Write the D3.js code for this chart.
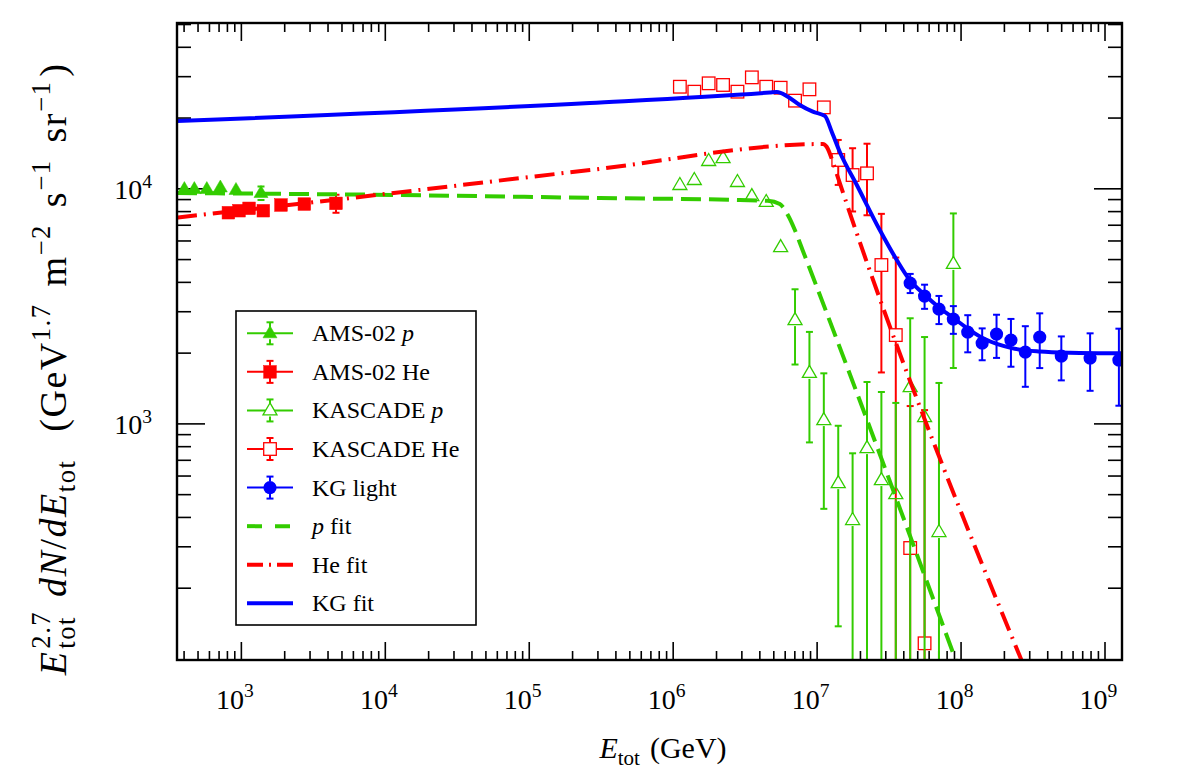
<!DOCTYPE html>
<html>
<head>
<meta charset="utf-8">
<script src="https://cdn.jsdelivr.net/npm/d3@7"></script>
<style>
  body { margin: 0; background: #fff; }
  text { font-family: "Liberation Serif", "DejaVu Serif", serif; fill: #000; }
  .axis line { stroke: #000; stroke-width: 1.6; }
  .axis .domain { display: none; }
</style>
</head>
<body>
<div id="chart"></div>
<script>
// total energy (GeV) and E^2.7 dN/dE values

// AMS-02 protons
var amsPE = [405, 475, 580, 720, 925, 1380];
var amsPV = [9930, 9930, 9930, 10080, 9840, 9550];
var amsPErr = [150, 160, 180, 250, 300, 630];

// AMS-02 helium
var amsHeE = [819, 971, 1140, 1432, 1900, 2760, 4580];
var amsHeV = [7874, 8030, 8220, 8030, 8490, 8570, 8630];
var amsHeErr = [120, 130, 150, 200, 280, 400, 760];

// KASCADE bins
var kasE = [1.122e6, 1.413e6, 1.778e6, 2.239e6, 2.818e6, 3.548e6, 4.467e6, 5.623e6, 7.079e6, 8.913e6,
            1.122e7, 1.413e7, 1.778e7, 2.239e7, 2.818e7, 3.548e7, 4.467e7, 5.623e7, 7.079e7, 8.913e7];
var kasPV = [10330, 10850, 13070, 13450, 10640, 9270, 8750, 5620, 2750, 1640,
             1033, 557, 388, 785, 574, 500, 1427, 1064, 345, 4770];
var kasPErr = [150, 170, 200, 220, 200, 200, 220, 250, 970, 810,
               600, 420, 358, 715, 786, 722, 1373, 1266, 1141, 3050];
var kasHeV = [27050, 25770, 27970, 27520, 25770, 29650, 27050, 26790, 23600, 26370,
              22100, 13200, 11390, 11580, 4717, 2375, 295, 116];
var kasHeErr = [300, 300, 350, 350, 400, 450, 500, 600, 700, 900,
                1100, 2860, 3420, 3900, 3070, 2700, 890, 1023];

// KASCADE-Grande light component
var kgE = [4.467e7, 5.623e7, 7.079e7, 8.913e7, 1.122e8, 1.413e8, 1.778e8, 2.239e8, 2.818e8, 3.548e8,
           5.012e8, 7.943e8, 1.259e9];
var kgV = [3954, 3481, 3065, 2779, 2446, 2196, 2399, 2262, 2011, 2329, 1934, 1896, 1859];
var kgErr = [370, 410, 420, 375, 440, 340, 500, 520, 580, 610, 410, 520, 670];

// fit curves (knots)
var pFitE = [360, 1.275e4, 3.12e5, 2.93e6, 4.58e6, 5.55e6, 6.31e6, 7.06e6, 7.89e6, 9.26e6, 9.87e7];
var pFitV = [9550, 9365, 9093, 8917, 8847, 8575, 7698, 6646, 5571, 4319, 88.3];
var heFitE = [360, 4369, 2.66e5, 1.105e7, 1.177e7, 1.296e7, 1.381e7, 3.025e8];
var heFitV = [7510, 8917, 11960, 15430, 14990, 12940, 11500, 80.8];
var kgFitE = [360, 2.66e5, 4.73e6, 5.29e6, 6.31e6, 7.64e6, 9.41e6, 1.14e7, 1.275e7, 1.449e7, 1.902e7,
              2.747e7, 3.605e7, 4.439e7, 5.642e7, 7.171e7, 9.115e7, 1.159e8, 1.473e8, 2.268e8,
              3.548e8, 5.732e8, 1.316e9];
var kgFitV = [19340, 23070, 25570, 25700, 24540, 22620, 21180, 20310, 17360, 14270, 10330,
              6646, 4954, 4071, 3516, 3095, 2779, 2495, 2284, 2091, 2021, 1997, 1986];

var legendNames = [
    [{t: "AMS-02"}, {gap: 6}, {t: "p", i: 1}],
    [{t: "AMS-02"}, {gap: 6}, {t: "He"}],
    [{t: "KASCADE"}, {gap: 6}, {t: "p", i: 1}],
    [{t: "KASCADE"}, {gap: 6}, {t: "He"}],
    [{t: "KG"}, {gap: 6}, {t: "light"}],
    [{t: "p", i: 1}, {gap: 6}, {t: "fit"}],
    [{t: "He"}, {gap: 6}, {t: "fit"}],
    [{t: "KG"}, {gap: 6}, {t: "fit"}]
];

var green = "#33cc00", red = "#ff0000", blue = "#0000ff";

var margin = {top: 23, right: 60, bottom: 118, left: 177};
var width = 1182 - margin.left - margin.right,
    height = 778 - margin.top - margin.bottom;

var svg = d3.select("#chart").append("svg")
    .attr("width", 1182)
    .attr("height", 778)
  .append("g")
    .attr("transform", "translate(" + margin.left + "," + margin.top + ")");

var x = d3.scaleLog().domain([360, 1.323e9]).range([0, width]);
var y = d3.scaleLog().domain([98.5, 5.05e4]).range([height, 0]);

// text with super/subscripts, laid out piece by piece
function richText(g, parts, size, spacing) {
    var cx = 0, lastStart = 0, lastW = 0;
    parts.forEach(function(p) {
        if (p.gap) { cx += p.gap; lastW = 0; return; }
        var fs = p.s ? size * 0.7 : size;
        var dy = p.s === "sup" ? -size * 0.42 : (p.s === "sub" ? size * 0.24 : 0);
        var start = p.stack ? lastStart : cx;
        var t = g.append("text")
            .attr("x", start)
            .attr("y", dy)
            .style("font-size", fs + "px")
            .style("font-style", p.i ? "italic" : "normal")
            .style("letter-spacing", (spacing || 0) + "px")
            .text(p.t);
        var w = t.node().getComputedTextLength();
        if (p.stack) {
            cx = start + Math.max(w, lastW);
        } else {
            lastStart = start; lastW = w; cx = start + w;
        }
    });
    return cx;
}

function isMajor(d) {
    var l = Math.log10(d);
    return Math.abs(l - Math.round(l)) < 1e-6;
}

// axes: ticks on all four sides, pointing inward
var xt = x.ticks(30), yt = y.ticks(30).filter(function(d) { return d > 150; });
var xMajor = xt.filter(isMajor), xMinor = xt.filter(function(d) { return !isMajor(d); });
var yMajor = yt.filter(isMajor), yMinor = yt.filter(function(d) { return !isMajor(d); });

function addAxis(axis, tr) {
    svg.append("g")
        .attr("class", "axis")
        .attr("transform", tr)
        .call(axis.tickSizeOuter(0).tickFormat(""));
}
addAxis(d3.axisBottom(x).tickValues(xMinor).tickSizeInner(-9), "translate(0," + height + ")");
addAxis(d3.axisBottom(x).tickValues(xMajor).tickSizeInner(-18), "translate(0," + height + ")");
addAxis(d3.axisTop(x).tickValues(xMinor).tickSizeInner(-9), "translate(0,0)");
addAxis(d3.axisTop(x).tickValues(xMajor).tickSizeInner(-18), "translate(0,0)");
addAxis(d3.axisLeft(y).tickValues(yMinor).tickSizeInner(-14), "translate(0,0)");
addAxis(d3.axisLeft(y).tickValues(yMajor).tickSizeInner(-28), "translate(0,0)");
addAxis(d3.axisRight(y).tickValues(yMinor).tickSizeInner(-14), "translate(" + width + ",0)");
addAxis(d3.axisRight(y).tickValues(yMajor).tickSizeInner(-28), "translate(" + width + ",0)");

// tick labels 10^n
xMajor.forEach(function(d) {
    var g = svg.append("g");
    var w = richText(g, [{t: "10"}, {t: String(Math.round(Math.log10(d))), s: "sup"}], 28);
    g.attr("transform", "translate(" + (x(d) - 6 - w / 2) + "," + (height + 49) + ")");
});
yMajor.forEach(function(d) {
    var g = svg.append("g");
    var w = richText(g, [{t: "10"}, {t: String(Math.round(Math.log10(d))), s: "sup"}], 28);
    g.attr("transform", "translate(" + (-25 - w) + "," + (y(d) + 11) + ")");
});

// axis titles
var xTitle = svg.append("g");
var xw = richText(xTitle, [{t: "E", i: 1}, {t: "tot", s: "sub"}, {gap: 10}, {t: "(GeV)"}], 30);
xTitle.attr("transform", "translate(" + (486 - xw / 2) + "," + (height + 98) + ")");

var yTitleOuter = svg.append("g")
    .attr("transform", "translate(-111," + 346 + ") rotate(-90)");
var yTitle = yTitleOuter.append("g");
var yw = richText(yTitle, [
    {t: "E", i: 1}, {gap: 2}, {t: "2.7", s: "sup"}, {t: "tot", s: "sub", stack: 1}, {gap: 14},
    {t: "dN", i: 1}, {t: "/"}, {t: "dE", i: 1}, {t: "tot", s: "sub"}, {gap: 28},
    {t: "(GeV"}, {t: "1.7", s: "sup"}, {gap: 17},
    {t: "m"}, {t: "\u22122", s: "sup"}, {gap: 17},
    {t: "s"}, {t: "\u22121", s: "sup"}, {gap: 17},
    {t: "sr"}, {t: "\u22121", s: "sup"}, {gap: 4}, {t: ")"}
], 38, 1.5);
yTitle.attr("transform", "translate(" + (-yw / 2) + ",0)");

// plotting area, clipped to the frame
svg.append("clipPath").attr("id", "clip")
  .append("rect").attr("width", width).attr("height", height);
var plot = svg.append("g").attr("clip-path", "url(#clip)");

function zip(es, vs, errs) {
    return es.map(function(e, i) { return {e: e, v: vs[i], err: errs ? errs[i] : 0}; });
}

// error bars drawn outside the marker only (as ROOT does)
function errorBars(g, data, color, hs) {
    data.forEach(function(d) {
        var cx = x(d.e), cy = y(d.v);
        var yHi = y(d.v + d.err);
        var lo = d.v - d.err;
        var yLo = lo > 0 ? y(lo) : height + 20;
        if (cy - yHi > hs) {
            g.append("line").attr("x1", cx).attr("x2", cx).attr("y1", cy - hs).attr("y2", yHi)
                .attr("stroke", color).attr("stroke-width", 2);
            g.append("line").attr("x1", cx - 3.5).attr("x2", cx + 3.5).attr("y1", yHi).attr("y2", yHi)
                .attr("stroke", color).attr("stroke-width", 2);
        }
        if (yLo - cy > hs) {
            g.append("line").attr("x1", cx).attr("x2", cx).attr("y1", cy + hs).attr("y2", yLo)
                .attr("stroke", color).attr("stroke-width", 2);
            g.append("line").attr("x1", cx - 3.5).attr("x2", cx + 3.5).attr("y1", yLo).attr("y2", yLo)
                .attr("stroke", color).attr("stroke-width", 2);
        }
    });
}

function marker(g, type, color) {
    if (type === "tri" || type === "otri") {
        return g.append("path").attr("d", "M0,-7.5L7,4.5L-7,4.5Z")
            .attr("fill", type === "tri" ? color : "none")
            .attr("stroke", color).attr("stroke-width", type === "tri" ? 0.5 : 1.3);
    }
    if (type === "sq" || type === "osq") {
        return g.append("rect").attr("x", -6.3).attr("y", -6.3).attr("width", 12.6).attr("height", 12.6)
            .attr("fill", type === "sq" ? color : "none")
            .attr("stroke", color).attr("stroke-width", type === "sq" ? 0.5 : 1.3);
    }
    return g.append("circle").attr("r", 6.6).attr("fill", color);
}

function points(data, type, color) {
    var g = plot.append("g");
    errorBars(g, data, color, 6);
    data.forEach(function(d) {
        marker(g, type, color).attr("transform", "translate(" + x(d.e) + "," + y(d.v) + ")");
    });
}

var kasHeData = zip(kasE.slice(0, kasHeV.length), kasHeV, kasHeErr);
var kasPData = zip(kasE, kasPV, kasPErr);

points(kasHeData, "osq", red);
points(kasPData, "otri", green);
points(zip(amsHeE, amsHeV, amsHeErr), "sq", red);
points(zip(amsPE, amsPV, amsPErr), "tri", green);

var line = d3.line()
    .x(function(d) { return x(d.e); })
    .y(function(d) { return y(d.v); })
    .curve(d3.curveMonotoneX);

plot.append("path").datum(zip(pFitE, pFitV))
    .attr("d", line).attr("fill", "none").attr("stroke", green)
    .attr("stroke-width", 4).attr("stroke-dasharray", "20,8");
plot.append("path").datum(zip(heFitE, heFitV))
    .attr("d", line).attr("fill", "none").attr("stroke", red)
    .attr("stroke-width", 4).attr("stroke-dasharray", "20,7,2,7");
plot.append("path").datum(zip(kgFitE, kgFitV))
    .attr("d", line).attr("fill", "none").attr("stroke", blue)
    .attr("stroke-width", 4);

points(zip(kgE, kgV, kgErr), "circ", blue);

// frame
svg.append("rect")
    .attr("width", width).attr("height", height)
    .attr("fill", "none").attr("stroke", "#000").attr("stroke-width", 2.4);

// legend
var legend = svg.append("g").attr("transform", "translate(59,288)");
legend.append("rect")
    .attr("width", 240).attr("height", 314)
    .attr("fill", "#fff").attr("stroke", "#000").attr("stroke-width", 1.6);

var legendStyle = [
    {c: green, m: "tri"}, {c: red, m: "sq"}, {c: green, m: "otri"}, {c: red, m: "osq"},
    {c: blue, m: "circ"}, {c: green, dash: "15,13"}, {c: red, dash: "16,6,2,6"}, {c: blue, dash: null}
];

legendNames.forEach(function(name, i) {
    var row = legend.append("g").attr("transform", "translate(0," + (22.3 + i * 38.57) + ")");
    var s = legendStyle[i];
    if (s.m) {
        row.append("line").attr("x1", 11).attr("x2", 57).attr("y1", 0).attr("y2", 0)
            .attr("stroke", s.c).attr("stroke-width", 2);
        [[-11, -6], [6, 11]].forEach(function(seg) {
            row.append("line").attr("x1", 34).attr("x2", 34).attr("y1", seg[0]).attr("y2", seg[1])
                .attr("stroke", s.c).attr("stroke-width", 2);
        });
        [-11, 11].forEach(function(cy) {
            row.append("line").attr("x1", 30.5).attr("x2", 37.5).attr("y1", cy).attr("y2", cy)
                .attr("stroke", s.c).attr("stroke-width", 2);
        });
        if (s.m === "otri" || s.m === "osq") {
            // keep the line from showing through the open marker
            marker(row, s.m === "otri" ? "tri" : "sq", "#fff").attr("transform", "translate(34,0)");
        }
        marker(row, s.m, s.c).attr("transform", "translate(34,0)");
    } else {
        row.append("line").attr("x1", 11).attr("x2", 57).attr("y1", 0).attr("y2", 0)
            .attr("stroke", s.c).attr("stroke-width", 4)
            .attr("stroke-dasharray", s.dash);
    }
    var tg = row.append("g").attr("transform", "translate(76,8)");
    richText(tg, name, 24);
});
</script>
</body>
</html>
